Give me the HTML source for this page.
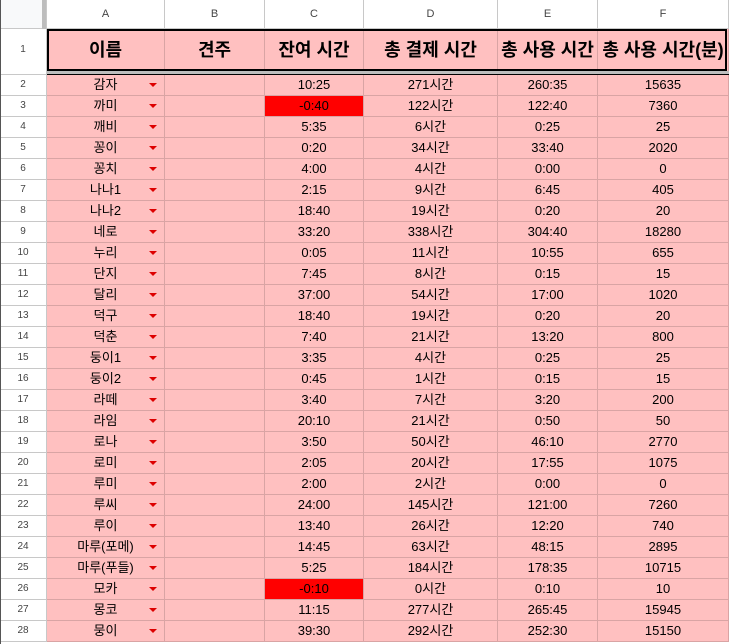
<!DOCTYPE html>
<html><head><meta charset="utf-8"><style>
body{margin:0;width:729px;height:644px;overflow:hidden;background:#fff;font-family:"Liberation Sans","Noto Sans CJK KR",sans-serif;position:relative}
.c{position:absolute;box-sizing:border-box;display:block;text-align:center;font-size:13px;color:#000;white-space:nowrap}
.ch{background:#fff;border-right:1px solid #c8c8c8;border-bottom:1px solid #c8c8c8;font-size:11px;color:#444;line-height:28px}
.rn{background:#fff;border-right:1px solid #c8c8c8;border-bottom:1px solid #c8c8c8;font-size:10px;color:#444;line-height:20px}
.d{background:#ffc0c0;border-right:1px solid #d9a4a4;border-bottom:1px solid #d9a4a4;line-height:20px}
.h{background:#ffc0c0;font-weight:bold;font-size:18px;border-right:1px solid #d9a4a4;line-height:42px}
.arr{position:absolute;width:0;height:0;border-left:4px solid transparent;border-right:4px solid transparent;border-top:4px solid #d00}
</style></head><body>
<div id="root"></div>
<script>
const cols=[["A",47,118],["B",165,100],["C",265,99],["D",364,134],["E",498,100],["F",598,131]];
const heads=["이름","견주","잔여 시간","총 결제 시간","총 사용 시간","총 사용 시간(분)"];
const names=["감자","까미","깨비","꽁이","꽁치","나나1","나나2","네로","누리","단지","달리","덕구","덕춘","둥이1","둥이2","라떼","라임","로나","로미","루미","루씨","루이","마루(포메)","마루(푸들)","모카","몽코","뭉이"];
const remain=["10:25","-0:40","5:35","0:20","4:00","2:15","18:40","33:20","0:05","7:45","37:00","18:40","7:40","3:35","0:45","3:40","20:10","3:50","2:05","2:00","24:00","13:40","14:45","5:25","-0:10","11:15","39:30"];
const paid=[271,122,6,34,4,9,19,338,11,8,54,19,21,4,1,7,21,50,20,2,145,26,63,184,0,277,292];
const used=["260:35","122:40","0:25","33:40","0:00","6:45","0:20","304:40","10:55","0:15","17:00","0:20","13:20","0:25","0:15","3:20","0:50","46:10","17:55","0:00","121:00","12:20","48:15","178:35","0:10","265:45","252:30"];
const mins=[15635,7360,25,2020,0,405,20,18280,655,15,1020,20,800,25,15,200,50,2770,1075,0,7260,740,2895,10715,10,15945,15150];
const R=document.getElementById('root');
function mk(cls,x,y,w,h,t,name,inter){const e=document.createElement('div');e.className='c '+cls;e.style.left=x+'px';e.style.top=y+'px';e.style.width=w+'px';e.style.height=h+'px';if(t!==undefined)e.textContent=t;


R.appendChild(e);return e;}
mk('ch',0,0,47,29,'','corner',true).style.background='#f8f9fa';
cols.forEach(c=>mk('ch',c[1],0,c[2],29,c[0],'column-header-'+c[0].toLowerCase(),true));
mk('rn',0,29,47,46,'1','row-header-1',true).style.lineHeight='42px';
cols.forEach((c,i)=>mk('h',c[1],29,c[2],42,heads[i],'header-cell-'+c[0].toLowerCase(),true));
const box=document.createElement('div');box.style.cssText='position:absolute;left:47px;top:29px;width:680px;height:42px;border:2px solid #000;box-sizing:border-box';


R.appendChild(box);
const fz=document.createElement('div');fz.style.cssText='position:absolute;left:47px;top:71px;width:682px;height:3px;background:#bdbdbd';


R.appendChild(fz);
const ln=document.createElement('div');ln.style.cssText='position:absolute;left:47px;top:74px;width:682px;height:1.5px;background:#000';


R.appendChild(ln);
names.forEach((n,i)=>{const y=75+i*21;
mk('rn',0,y,47,21,String(i+2),'row-header-'+(i+2),true);
const a=mk('d',47,y,118,21,n,'name-cell',true);
const ar=document.createElement('div');ar.className='arr';ar.style.left='102px';ar.style.top='8px';


a.appendChild(ar);
mk('d',165,y,100,21,'','owner-cell',true);
const r=mk('d',265,y,99,21,remain[i],'remaining-time-cell',true);if(remain[i][0]==='-')r.style.background='#ff0000';
mk('d',364,y,134,21,paid[i]+'시간','paid-time-cell',true);
mk('d',498,y,100,21,used[i],'used-time-cell',true);
mk('d',598,y,131,21,String(mins[i]),'used-minutes-cell',true);
});
const lb=document.createElement('div');lb.style.cssText='position:absolute;left:0;top:0;width:1px;height:644px;background:#555';


R.appendChild(lb);
const g=document.createElement('div');g.style.cssText='position:absolute;left:42px;top:0;width:4px;height:29px;background:#bdbdbd';


R.appendChild(g);
</script>
</body></html>
